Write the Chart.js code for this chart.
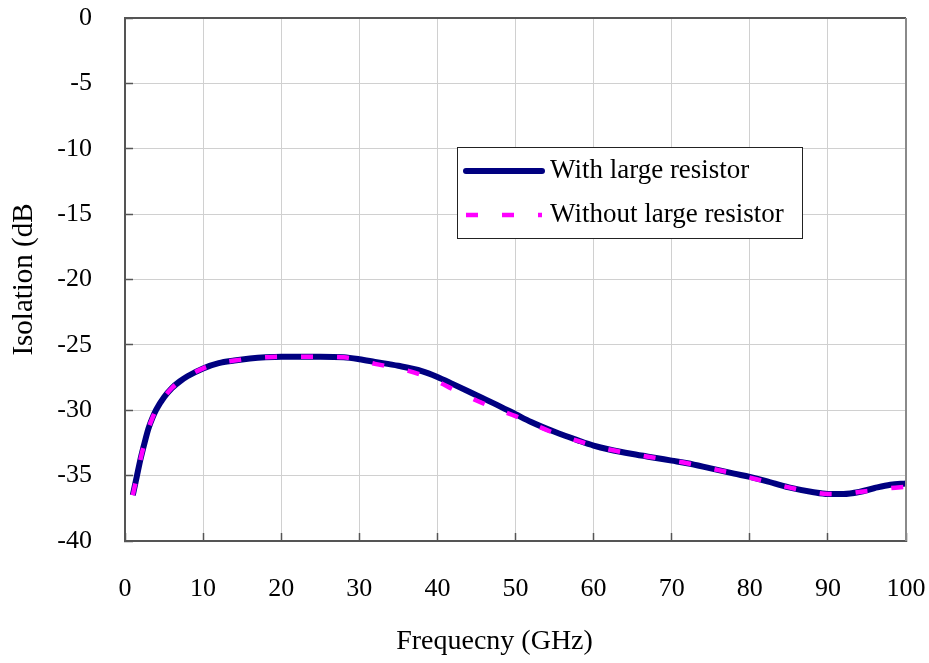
<!DOCTYPE html>
<html>
<head>
<meta charset="utf-8">
<title>Isolation</title>
<script src="https://cdn.jsdelivr.net/npm/chart.js@4.4.1/dist/chart.umd.min.js"></script>
<style>
  html, body { margin: 0; padding: 0; background: #fff; }
  #wrap { width: 929px; height: 663px; }
</style>
</head>
<body>
<div id="wrap"><canvas id="isoChart" width="929" height="663"></canvas></div>
<script>
// frequency points (GHz)
const freqGHz = [1, 1.5, 2, 2.5, 3, 3.5, 4, 5, 6, 7, 8, 10, 12, 14, 16, 18, 20, 22, 25, 28, 30,
                 32, 35, 38, 40, 42, 45, 48, 50, 52, 55, 58, 60, 62, 65, 68, 70, 72, 75, 78, 80,
                 82, 85, 88, 90, 92, 94, 96, 98, 100];

// isolation (dB)
const withResistor = [-36.5, -35.1, -33.7, -32.5, -31.4, -30.6, -29.95, -29.0, -28.3, -27.8, -27.4, -26.8, -26.4, -26.2, -26.05, -25.95, -25.9, -25.9, -25.9, -25.95, -26.1,
                      -26.3, -26.6, -27.0, -27.45, -28.0, -28.85, -29.7, -30.3, -30.9, -31.65, -32.3, -32.7, -33.0, -33.35, -33.65, -33.85, -34.05, -34.45, -34.85, -35.1,
                      -35.4, -35.9, -36.25, -36.4, -36.4, -36.25, -35.95, -35.7, -35.6];

const withoutResistor = [-36.5, -35.1, -33.7, -32.5, -31.4, -30.6, -29.95, -29.0, -28.3, -27.8, -27.4, -26.8, -26.4, -26.2, -26.05, -25.95, -25.9, -25.9, -25.9, -25.95, -26.15,
                         -26.45, -26.8, -27.3, -27.8, -28.4, -29.25, -30.0, -30.45, -31.0, -31.75, -32.35, -32.7, -33.0, -33.35, -33.65, -33.85, -34.05, -34.45, -34.85, -35.15,
                         -35.45, -35.9, -36.25, -36.4, -36.4, -36.25, -36.1, -35.95, -35.85];

const seriesNames = ['With large resistor', 'Without large resistor'];
const xTitle = 'Frequecny (GHz)';
const yTitle = 'Isolation (dB';

const serif = 'Liberation Serif, Times New Roman, serif';

function toPoints(values) {
    return freqGHz.map((f, i) => ({ x: f, y: values[i] }));
}

// draws top/right frame and the boxed legend inside the plot
const frameLegend = {
    id: 'frameLegend',
    afterDraw(chart) {
        const ctx = chart.ctx;
        const a = chart.chartArea;
        ctx.save();
        ctx.lineWidth = 2;
        ctx.strokeStyle = '#555';
        ctx.beginPath();
        ctx.moveTo(a.left, a.top);
        ctx.lineTo(a.right, a.top);
        ctx.stroke();
        ctx.strokeStyle = '#8a8a8a';
        ctx.beginPath();
        ctx.moveTo(a.right, a.top);
        ctx.lineTo(a.right, a.bottom);
        ctx.stroke();

        // legend box
        const bx = a.left + 332, by = a.top + 129, bw = 345, bh = 91;
        ctx.fillStyle = '#fff';
        ctx.fillRect(bx, by, bw, bh);
        ctx.lineWidth = 1;
        ctx.strokeStyle = '#222';
        ctx.strokeRect(bx + 0.5, by + 0.5, bw, bh);

        ctx.font = '27px ' + serif;
        ctx.textBaseline = 'middle';
        chart.data.datasets.forEach((ds, i) => {
            const y = by + 24 + i * 44;
            ctx.save();
            ctx.strokeStyle = ds.borderColor;
            ctx.lineWidth = i === 0 ? 6 : 4.5;
            ctx.lineCap = i === 0 ? 'round' : 'butt';
            ctx.setLineDash(ds.borderDash || []);
            ctx.beginPath();
            ctx.moveTo(bx + 9, y);
            ctx.lineTo(bx + 85, y);
            ctx.stroke();
            ctx.restore();
            ctx.fillStyle = '#000';
            ctx.fillText(ds.label, bx + 93, y);
        });
        ctx.restore();
    }
};

// x title sits a little left of the plot centre in the original
const xTitlePos = {
    id: 'xTitlePos',
    afterDraw(chart) {
        const ctx = chart.ctx;
        const a = chart.chartArea;
        ctx.save();
        ctx.font = '28px ' + serif;
        ctx.fillStyle = '#000';
        ctx.textAlign = 'center';
        ctx.textBaseline = 'middle';
        ctx.fillText(xTitle, (a.left + a.right) / 2 - 21, chart.height - 21);
        ctx.restore();
    }
};

const ctx = document.getElementById('isoChart').getContext('2d');
new Chart(ctx, {
    type: 'line',
    data: {
        datasets: [{
            label: seriesNames[0],
            data: toPoints(withResistor),
            borderColor: '#000080',
            borderWidth: 6,
            pointRadius: 0,
            cubicInterpolationMode: 'monotone',
            order: 2
        }, {
            label: seriesNames[1],
            data: toPoints(withoutResistor),
            borderColor: '#ff00ff',
            borderWidth: 4.5,
            borderDash: [12, 24],
            pointRadius: 0,
            cubicInterpolationMode: 'monotone',
            order: 1
        }]
    },
    options: {
        responsive: false,
        animation: false,
        layout: { padding: { top: 18, right: 23, left: 0, bottom: 0 } },
        plugins: {
            legend: { display: false },
            tooltip: { enabled: false }
        },
        scales: {
            x: {
                type: 'linear',
                min: 0,
                max: 100,
                ticks: { stepSize: 10, color: '#000', padding: 41, font: { family: serif, size: 26 } },
                grid: { color: '#d0d0d0', lineWidth: 1, tickLength: -8, tickColor: '#555', tickWidth: 1.5 },
                border: { color: '#555', width: 2 },
                title: { display: false },
                afterFit: function (scale) {
                    scale.height = 122;
                    scale.paddingLeft = 0;
                    scale.paddingRight = 0;
                }
            },
            y: {
                min: -40,
                max: 0,
                ticks: { stepSize: 5, color: '#000', padding: 41, font: { family: serif, size: 26 } },
                grid: { color: '#d0d0d0', lineWidth: 1, tickLength: -8, tickColor: '#555', tickWidth: 1.5 },
                border: { color: '#555', width: 2 },
                title: { display: true, text: yTitle, color: '#000', font: { family: serif, size: 29 }, padding: { top: 7, bottom: 0 } },
                afterFit: function (scale) {
                    scale.width = 125;
                    scale.paddingTop = 0;
                    scale.paddingBottom = 0;
                }
            }
        }
    },
    plugins: [frameLegend, xTitlePos]
});
</script>
</body>
</html>
